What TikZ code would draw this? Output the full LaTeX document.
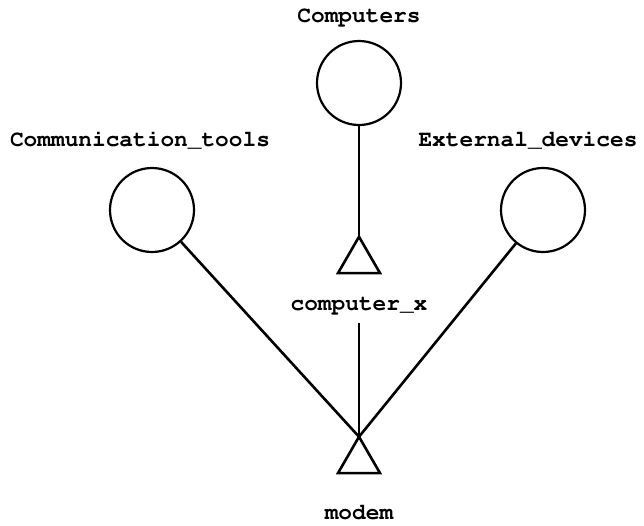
\documentclass[tikz,border=0pt]{standalone}
\usepackage[T1]{fontenc}
\usetikzlibrary{shapes.geometric}
\begin{document}
\begin{tikzpicture}[x=1pt,y=-1pt,
  obj/.style={circle,draw,line width=2.2pt,minimum size=84pt,inner sep=0pt},
  tri/.style={regular polygon,regular polygon sides=3,draw,line width=2.6pt,minimum size=48.5pt,inner sep=0pt,outer sep=0pt},
  lbl/.style={font=\fontfamily{pcr}\fontsize{22.8}{27}\selectfont\bfseries,inner sep=0pt},
  conn/.style={line width=2.6pt}]
\useasboundingbox (0,0) rectangle (644,525);
\node[lbl] (lcomp) at (359,17) {Computers};
\node[obj] (comp) at (359,83) {};
\node[lbl] (lct) at (140,140) {Communication\_tools};
\node[obj] (ct) at (152,210) {};
\node[lbl] (led) at (528,140) {External\_devices};
\node[obj] (ed) at (543,210) {};
\node[tri] (ctri) at (359,261) {};
\node[lbl] (lcx) at (359,306) {computer\_x};
\node[tri] (mtri) at (359,461) {};
\node[lbl] (lmodem) at (359,513) {modem};
\draw[conn] (comp) -- (ctri.corner 1);
\draw[conn] (359,323) coordinate (cxb) -- (mtri.corner 1);
\draw[conn] (ct) -- (mtri.corner 1);
\draw[conn] (ed) -- (mtri.corner 1);
\end{tikzpicture}
\end{document}
